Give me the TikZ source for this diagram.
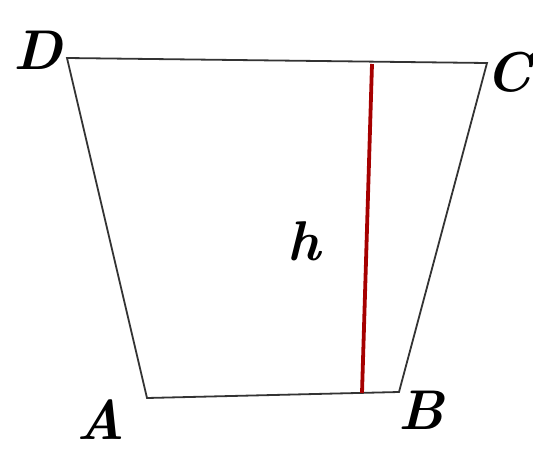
\documentclass[tikz,border=0pt]{standalone}
\tikzset{
  edge/.style={draw=black!80, line width=1.8pt},
  hline/.style={draw=red!65!black, line width=3.8pt},
  lbl/.style={font=\fontsize{56}{60}\selectfont\bfseries\itshape, inner sep=0pt}
}
\begin{document}
\begin{tikzpicture}[x=1pt,y=-1pt]
\useasboundingbox (0,0) rectangle (533,453);
\coordinate (D) at (67,58);
\coordinate (C) at (487,63);
\coordinate (A) at (147,398);
\coordinate (B) at (399,392);
\coordinate (Ht) at (372,64);
\coordinate (Hb) at (362,393);
\draw[edge, line join=miter] (D) -- (C) -- (B) -- (A) -- cycle;
\draw[hline] (Ht) -- (Hb);
\node[lbl] (lD) at (38,50) {D};
\node[lbl] (lC) at (509,72) {C};
\node[lbl] (lA) at (101,420) {A};
\node[lbl] (lB) at (421,410) {B};
\node[lbl] (lh) at (304,241) {h};
\end{tikzpicture}
\end{document}
